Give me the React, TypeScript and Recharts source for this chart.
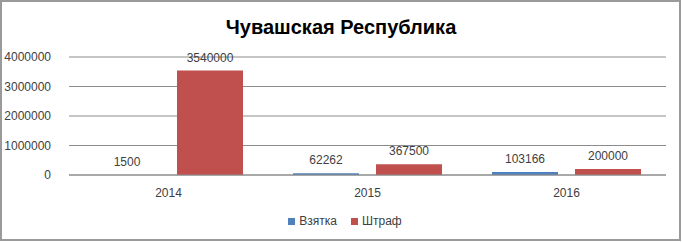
import React from 'react';
import { BarChart, Bar, XAxis, YAxis, CartesianGrid, Legend, LabelList } from 'recharts';

const categories = ['2014', '2015', '2016'];
const bribeValues = [1500, 62262, 103166];
const fineValues = [3540000, 367500, 200000];
const yTicks = [0, 1000000, 2000000, 3000000, 4000000];
const titleText = 'Чувашская Республика';
const bribeName = 'Взятка';
const fineName = 'Штраф';

const data = categories.map((c, i) => ({ year: c, bribe: bribeValues[i], fine: fineValues[i] }));

const FONT = '"Liberation Sans", Arial, sans-serif';
const TEXT = '#404040';

export default function App() {
  return (
    <div style={{ position: 'absolute', left: 0, top: 0, width: 682, height: 242, background: '#fff', fontFamily: FONT }}>
      <div
        style={{
          position: 'absolute', left: 0, top: 0, width: 681, height: 241, boxSizing: 'border-box',
          border: '2px solid #9a9a9a', pointerEvents: 'none', zIndex: 2,
        }}
      />
      <div
        style={{
          position: 'absolute', left: 0, top: 14, width: 682, textAlign: 'center',
          fontFamily: FONT, fontWeight: 'bold', fontSize: 20, lineHeight: '26px', color: '#000', zIndex: 1,
        }}
      >
        {titleText}
      </div>
      <BarChart
        width={682}
        height={242}
        data={data}
        margin={{ top: 57, right: 16, left: 0, bottom: 37 }}
        barCategoryGap={25}
        barGap={17}
      >
        <CartesianGrid vertical={false} stroke="#8c8c8c" strokeWidth={1} />
        <XAxis
          dataKey="year"
          tickLine={false}
          axisLine={{ stroke: '#8c8c8c' }}
          tick={{ fill: TEXT, fontSize: 12, fontFamily: FONT }}
          tickMargin={7}
          height={30}
        />
        <YAxis
          domain={[0, 4000000]}
          ticks={yTicks}
          width={69}
          tickLine={false}
          axisLine={false}
          tickMargin={12}
          tick={{ fill: TEXT, fontSize: 12, fontFamily: FONT }}
          interval={0}
        />
        <Legend
          verticalAlign="middle"
          layout="horizontal"
          iconType="square"
          iconSize={7}
          wrapperStyle={{ top: 214, left: 11, width: 682, fontFamily: FONT, fontSize: 12 }}
          formatter={(value: string) => <span style={{ color: TEXT, marginRight: 4 }}>{value}</span>}
        />
        <Bar dataKey="bribe" name={bribeName} fill="#4F81BD" isAnimationActive={false}>
          <LabelList dataKey="bribe" position="top" offset={9} fill={TEXT} fontSize={12} fontFamily={FONT} />
        </Bar>
        <Bar dataKey="fine" name={fineName} fill="#C0504D" isAnimationActive={false}>
          <LabelList dataKey="fine" position="top" offset={9} fill={TEXT} fontSize={12} fontFamily={FONT} />
        </Bar>
      </BarChart>
    </div>
  );
}
